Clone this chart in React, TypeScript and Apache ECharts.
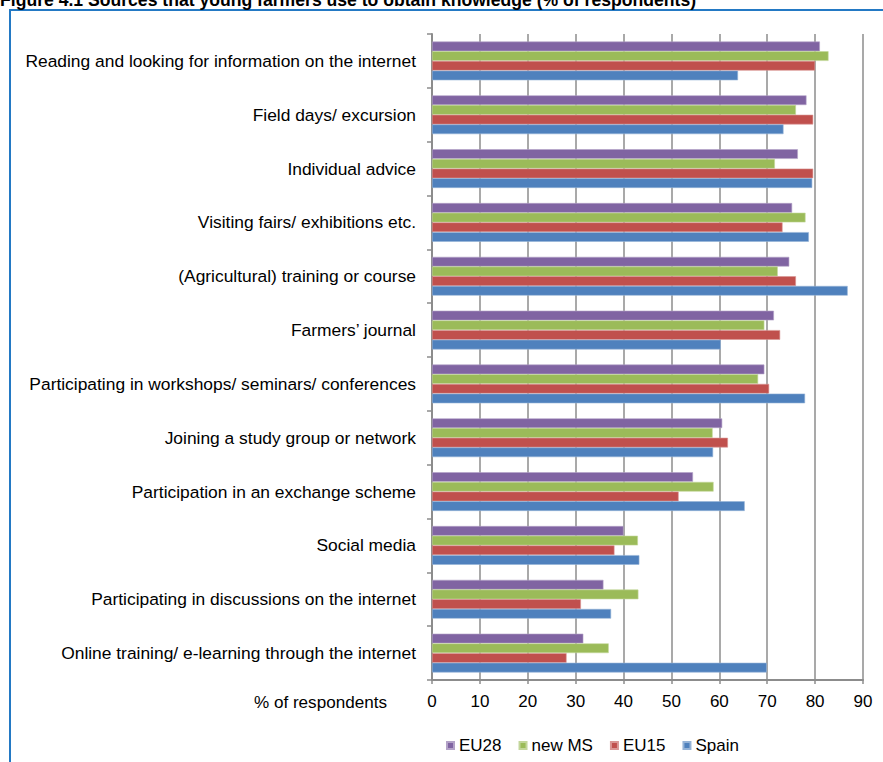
import React, { useEffect, useRef } from "react";
import * as echarts from "echarts";

const categories = [
  "Reading and looking for information on the internet",
  "Field days/ excursion",
  "Individual advice",
  "Visiting fairs/ exhibitions etc.",
  "(Agricultural) training or course",
  "Farmers’ journal",
  "Participating in workshops/ seminars/ conferences",
  "Joining a study group or network",
  "Participation in an exchange scheme",
  "Social media",
  "Participating in discussions on the internet",
  "Online training/ e-learning through the internet",
];

const eu28 = [81.0, 78.2, 76.4, 75.2, 74.6, 71.4, 69.4, 60.6, 54.5, 40.0, 35.8, 31.6];
const newMS = [82.8, 76.0, 71.6, 78.0, 72.2, 69.4, 68.1, 58.6, 58.8, 43.0, 43.1, 36.9];
const eu15 = [80.0, 79.6, 79.6, 73.2, 76.0, 72.7, 70.4, 61.8, 51.5, 38.1, 31.1, 28.1];
const spain = [63.9, 73.4, 79.4, 78.7, 86.8, 60.3, 77.9, 58.7, 65.3, 43.3, 37.4, 69.9];

const seriesNames = ["EU28", "new MS", "EU15", "Spain"];
const seriesColors = ["#8064A2", "#9BBB59", "#C0504D", "#4F81BD"];
const seriesBorders = ["#B3A2C7", "#C3D69B", "#D99694", "#95B3D7"];
const seriesData = [eu28, newMS, eu15, spain];

const FONT = "'Liberation Sans', Arial, sans-serif";

export default function App() {
  const ref = useRef<HTMLDivElement>(null);
  useEffect(() => {
    if (!ref.current) return;
    const chart = echarts.init(ref.current, null, { renderer: "svg" });
    chart.setOption({
      animation: false,
      backgroundColor: "#ffffff",
      textStyle: { fontFamily: FONT },
      grid: { left: 432, right: 20, top: 34, bottom: 82, containLabel: false },
      legend: {
        data: seriesNames,
        left: 441,
        top: 732,
        icon: "rect",
        itemWidth: 7,
        itemHeight: 7,
        itemGap: 17,
        textStyle: { fontSize: 17, color: "#000", fontFamily: FONT },
      },
      xAxis: {
        type: "value",
        min: 0,
        max: 90,
        interval: 10,
        axisLine: { show: true, lineStyle: { color: "#8C8C8C", width: 2 } },
        axisTick: { show: true, length: 4, lineStyle: { color: "#8C8C8C", width: 1.5 } },
        axisLabel: { fontSize: 17, color: "#000", margin: 13, fontFamily: FONT },
        splitLine: { show: true, lineStyle: { color: "#8C8C8C", width: 1.5 } },
      },
      yAxis: {
        type: "category",
        data: categories,
        inverse: true,
        axisLine: { show: true, lineStyle: { color: "#8C8C8C", width: 2 } },
        axisTick: { show: true, length: 5, lineStyle: { color: "#8C8C8C", width: 1.5 } },
        axisLabel: { fontSize: 17.4, color: "#000", margin: 16, fontFamily: FONT },
        splitLine: { show: false },
      },
      series: seriesNames.map((name, i) => ({
        name,
        type: "bar",
        data: seriesData[i],
        barGap: "0%",
        barCategoryGap: "28%",
        itemStyle: { color: seriesColors[i], borderColor: seriesBorders[i], borderWidth: 0.6 },
      })),
      graphic: [
        {
          type: "rect",
          shape: { x: 10, y: 10, width: 900, height: 800 },
          style: { fill: "none", stroke: "#2379C4", lineWidth: 2 },
          silent: true,
        },
        {
          type: "text",
          x: 0,
          y: 0,
          style: {
            text: "Figure 4.1 Sources that young farmers use to obtain knowledge (% of respondents)",
            fontSize: 17.6,
            fontWeight: "bold",
            fill: "#000",
            align: "left",
            verticalAlign: "middle",
            fontFamily: FONT,
          },
        },
        {
          type: "text",
          x: 387,
          y: 702,
          style: {
            text: "% of respondents",
            fontSize: 17.1,
            fill: "#000",
            align: "right",
            verticalAlign: "middle",
            fontFamily: FONT,
          },
        },
      ],
    });
    return () => chart.dispose();
  }, []);
  return (
    <div
      ref={ref}
      style={{ position: "fixed", left: 0, top: 0, width: 883, height: 762 }}
    />
  );
}
